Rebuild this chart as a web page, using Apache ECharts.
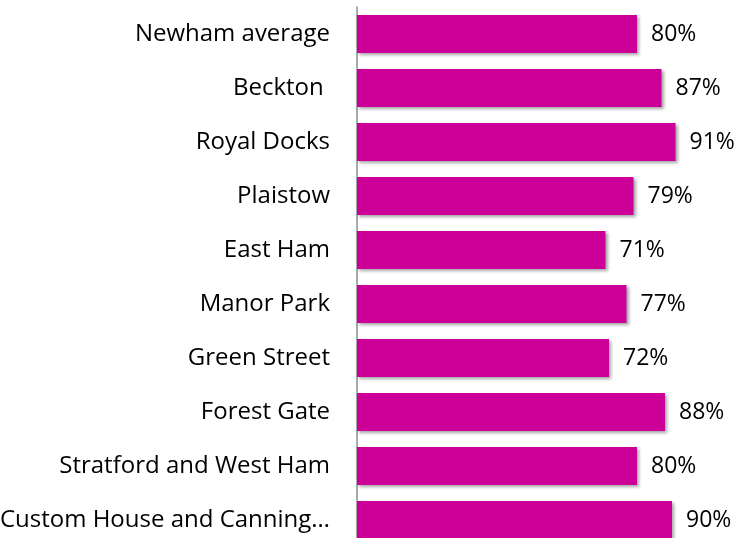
<!DOCTYPE html>
<html style="height:100%">
<head>
<meta charset="utf-8">
<script src="https://cdn.jsdelivr.net/npm/echarts@6/dist/echarts.min.js"></script>
</head>
<body style="height:100%; margin:0; background:#fff; overflow:hidden">
<div id="container" style="width:734px; height:547px"></div>
<script type="text/javascript">
var areas = ['Newham average', 'Beckton ', 'Royal Docks', 'Plaistow', 'East Ham', 'Manor Park',
  'Green Street', 'Forest Gate', 'Stratford and West Ham', 'Custom House and Canning\u2026'];
var shares = [80, 87, 91, 79, 71, 77, 72, 88, 80, 90];

var myChart = echarts.init(document.getElementById('container'));
var option = {
  animation: false,
  grid: { left: 357, right: 27, top: 7, bottom: 0, containLabel: false, outerBoundsMode: 'none' },
  xAxis: {
    type: 'value', min: 0, max: 100,
    show: false
  },
  yAxis: {
    type: 'category',
    data: areas,
    inverse: true,
    axisLine: { show: true, lineStyle: { color: '#8c8c8c', width: 1.5 } },
    axisTick: { show: false },
    axisLabel: {
      margin: 27, color: '#000', fontSize: 24,
      fontFamily: '"Open Sans", sans-serif'
    }
  },
  series: [{
    type: 'bar',
    data: shares,
    barCategoryGap: '30%',
    itemStyle: {
      color: '#cc0099',
      shadowColor: 'rgba(0,0,0,0.35)', shadowBlur: 3,
      shadowOffsetX: 2, shadowOffsetY: 2
    },
    label: {
      show: true, position: 'right', distance: 14,
      formatter: '{c}%', color: '#000', fontSize: 23,
      fontFamily: '"Open Sans", sans-serif'
    }
  }]
};
myChart.setOption(option);
</script>
</body>
</html>
